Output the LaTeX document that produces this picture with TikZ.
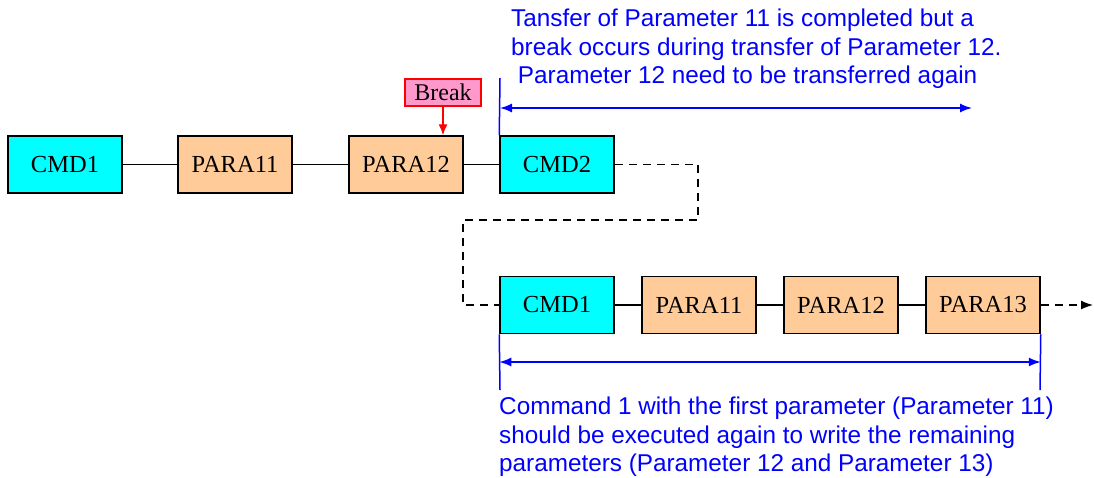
\documentclass[tikz,border=0pt]{standalone}
\usepackage{fontspec}
\setmainfont{Liberation Serif}
\setsansfont{Liberation Sans}
\usetikzlibrary{arrows.meta}

\definecolor{cmdcol}{RGB}{0,255,255}
\definecolor{paracol}{RGB}{255,204,153}
\definecolor{brkcol}{RGB}{255,153,204}
\definecolor{notecol}{RGB}{0,0,255}

\begin{document}
\begin{tikzpicture}
	[x=1pt,y=-1pt,
		cmdbox/.style={draw,line width=1.5pt,fill=cmdcol,minimum width=114pt,minimum
		height=57pt,inner sep=0pt,font=\fontsize{24.5}{28}\selectfont},
		parabox/.style={cmdbox,fill=paracol},
		note/.style={text=notecol,align=left,inner sep=0pt,font=\sffamily\fontsize{24.3}{28.5}\selectfont}]
		\tikzstyle{bluemark}=[draw=notecol,line width=1.5pt]
		\tikzstyle{span}=[bluemark,{Latex[length=12pt,width=9pt]}-{Latex[length=12pt,width=9pt]}]

	\useasboundingbox (0,0) rectangle (1094,477);

	% first try
	\node (cmdA) at (65,164.5) [cmdbox] {CMD1};
	\node (paraA1) at (235,164.5) [parabox] {PARA11};
	\node (paraA2) at (406,164.5) [parabox] {PARA12};
	\node (cmdB) at (557,164.5) [cmdbox] {CMD2};
	\draw[line width=1.2pt] (cmdA) -- (paraA1) -- (paraA2) -- (cmdB);

	\node (brk) at (443,92.5) [draw=red,line width=1.3pt,fill=brkcol,minimum width=76pt,
		minimum height=27pt,inner sep=0pt,font=\fontsize{24}{28}\selectfont] {Break};
	\draw[red,line width=1.3pt,-{Latex[length=11pt,width=9pt]}] (brk.south) -- (brk.south |- paraA2.north);

	% second try
	\node (cmdC) at (557,305) [cmdbox] {CMD1};
	\node (paraC1) at (699,305) [parabox] {PARA11};
	\node (paraC2) at (841,305) [parabox] {PARA12};
	\node (paraC3) at (983,305) [parabox] {PARA13};
	\draw[line width=1.2pt] (cmdC) -- (paraC1) -- (paraC2) -- (paraC3);

	\coordinate (bendA) at (698,220);
	\coordinate (bendB) at (463,220);
	\coordinate (endC) at (1093,305);
	\draw[line width=1.3pt,dash pattern=on 8pt off 6pt] (cmdB.east) -| (bendA) -- (bendB) |- (cmdC.west);
	\draw[line width=1.3pt,dash pattern=on 8pt off 6pt,-{Latex[length=12pt,width=9pt]}] (paraC3.east) -- (endC);

	% upper note
	\coordinate (topA) at (500,78);
	\coordinate (spanA) at (972,108);
	\draw[bluemark] (topA) -- (cmdB.north west);
	\draw[span] (topA |- spanA) -- (spanA);
	\node (noteA) at (511,9) [note,anchor=north west]
		{Tansfer of Parameter 11 is completed but a\\
		break occurs during transfer of Parameter 12.\\
		\ Parameter 12 need to be transferred again};

	% lower note
	\coordinate (botA) at (500,390);
	\coordinate (botB) at (1040,390);
	\draw[bluemark] (cmdC.south west) -- (botA);
	\draw[bluemark] (paraC3.south east) -- (botB);
	\draw[span] (cmdC.south west |- 0,362) -- (paraC3.south east |- 0,362);
	\node (noteB) at (499,397) [note,anchor=north west]
		{Command 1 with the first parameter (Parameter 11)\\
		should be executed again to write the remaining\\
		parameters (Parameter 12 and Parameter 13)};
\end{tikzpicture}
\end{document}
